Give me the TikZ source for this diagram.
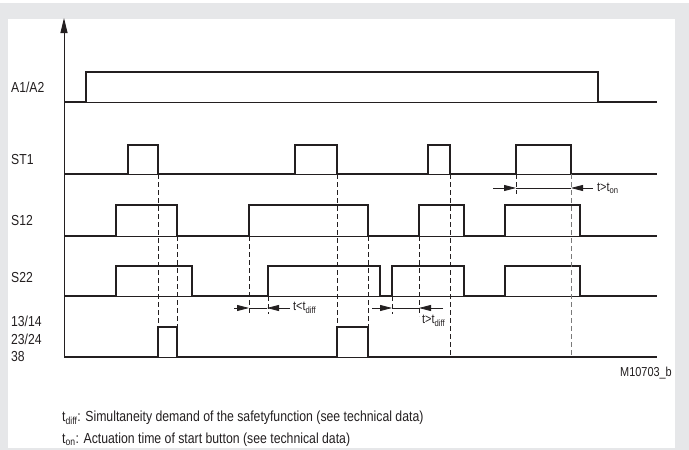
\documentclass[tikz,border=0pt]{standalone}
\usepackage{fontspec}
\setmainfont[FakeStretch=0.84]{Liberation Sans}
\usetikzlibrary{arrows.meta}
\definecolor{ink}{HTML}{231F20}
\definecolor{framegray}{HTML}{E6E7E9}
\definecolor{midgray}{HTML}{7A7A7A}
\tikzset{
  sig/.style={ink, line width=2.4pt},
  base/.style={ink, line width=0.8pt},
  guide/.style={ink, line width=0.9pt, dash pattern=on 5pt off 3pt},
  dim/.style={ink, line width=0.8pt},
  tip/.style={-{Triangle[length=12pt,width=6pt]}},
  lab/.style={anchor=west, text=ink, inner sep=0pt, font=\fontsize{14.5}{16}\selectfont},
  small/.style={anchor=west, text=ink, inner sep=0pt, font=\fontsize{13}{14}\selectfont},
  note/.style={anchor=west, text=ink, inner sep=0pt, font=\fontsize{14.6}{16}\selectfont},
}
\begin{document}
\begin{tikzpicture}[x=1pt,y=-1pt]
  \useasboundingbox (0,0) rectangle (689,450);
  \fill[framegray] (0,3) rectangle (689,450);
  \fill[white] (8,19) rectangle (675,448);
  % time axis
  \coordinate (ax0) at (64,357);
  \coordinate (ax1) at (64,18);
  \draw[ink, line width=1pt, -{Triangle[length=15pt,width=7pt]}] (ax0) -- (ax1);
  \foreach \y/\lab [count=\i] in {87/{A1/A2}, 160/ST1, 221/S12, 278/S22, 321/{13/14}, 339/{23/24}, 357/38} {
    \node[lab] (row\i) at (11,\y) {\lab};
  }
  \foreach \y in {102,174,236,296,357} { \draw[base] (64,\y) -- (657,\y); }
  % signals
  \draw[sig] (64,102) -| (86,72) -| (598,102) -- (657,102);
  \draw[sig] (64,174) -| (128,145) -| (158,174) -| (295,145) -| (337,174)
    -| (428,145) -| (450,174) -| (516,145) -| (571,174) -- (657,174);
  \draw[sig] (64,236) -| (116,205) -| (177,236) -| (249,205) -| (368,236)
    -| (419,205) -| (464,236) -| (505,205) -| (580,236) -- (657,236);
  \draw[sig] (64,296) -| (116,266) -| (192,296) -| (268,266) -| (380,296)
    -| (392,266) -| (464,296) -| (505,266) -| (580,296) -- (657,296);
  \draw[sig] (64,357) -| (158,327) -| (177,357) -| (337,327) -| (368,357) -- (657,357);
  % guide lines
  \foreach \x/\ya/\yb in {158/174/327, 177/236/327, 249/236/314, 268/296/314, 337/174/327,
      368/236/327, 392/296/314, 419/236/316, 450/174/357, 516/174/194} {
    \draw[guide] (\x,\ya) -- (\x,\yb);
  }
  \draw[guide, midgray] (571,174) -- (571,357);
  % t < t_diff
  \coordinate (ld1) at (234,308); \coordinate (ld2) at (249,308);
  \coordinate (ld3) at (267,308); \coordinate (ld4) at (290,308);
  \draw[dim] (ld2) -- (ld3);
  \draw[dim, tip] (ld1) -- (ld2);
  \draw[dim, tip] (ld4) -- (ld3);
  \node[small] (tlt) at (293,308) {t<t\textsubscript{diff}};
  % t > t_diff
  \coordinate (gd1) at (372,308); \coordinate (gd2) at (392,308);
  \coordinate (gd3) at (419,308); \coordinate (gd4) at (443,308);
  \draw[dim] (gd2) -- (gd3);
  \draw[dim, tip] (gd1) -- (gd2);
  \draw[dim, tip] (gd4) -- (gd3);
  \node[small] (tgt) at (422,321) {t>t\textsubscript{diff}};
  % t > t_on
  \coordinate (on1) at (493,188); \coordinate (on2) at (516,188);
  \coordinate (on3) at (571,188); \coordinate (on4) at (593,188);
  \draw[dim] (on2) -- (on3);
  \draw[dim, tip] (on1) -- (on2);
  \draw[dim, tip] (on4) -- (on3);
  \node[small] (ton) at (597,188) {t>t\textsubscript{on}};
  \node[small, anchor=east] (code) at (672,373) {M10703\_b};
  \node[note] (note1) at (62,418) {t\textsubscript{diff}: Simultaneity demand of the safetyfunction (see technical data)};
  \node[note] (note2) at (62,440) {t\textsubscript{on}: Actuation time of start button (see technical data)};
\end{tikzpicture}
\end{document}
